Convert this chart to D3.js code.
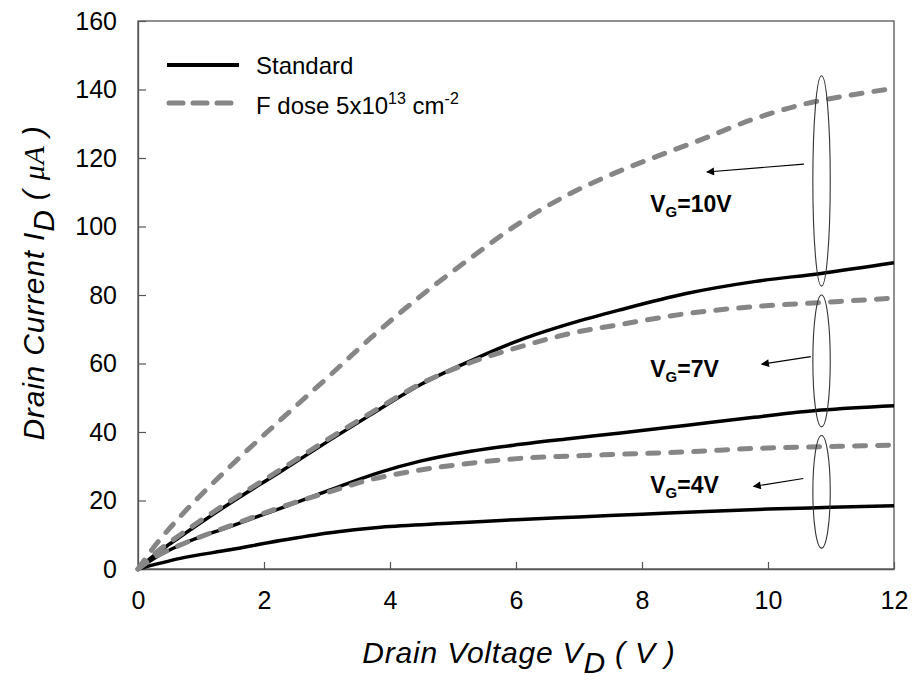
<!DOCTYPE html>
<html>
<head>
<meta charset="utf-8">
<script src="https://cdn.jsdelivr.net/npm/d3@7"></script>
<style>
  html, body { margin: 0; padding: 0; background: #fff; }
  svg { display: block; }
  text { font-family: "Liberation Sans", Arial, sans-serif; fill: #000; }
</style>
</head>
<body>
<svg id="chart" width="915" height="680"></svg>
<script>
// ---------- data ----------
const xTicks = [0, 2, 4, 6, 8, 10, 12];
const yTicks = [0, 20, 40, 60, 80, 100, 120, 140, 160];

// Standard devices [V_D, I_D]
const std10 = [[0,0],[0.3,4.6],[0.67,9.4],[1.46,19.2],[2.26,28.4],[3.05,37.7],[3.69,45],[4.48,53.8],[5.28,60.8],[6.07,66.9],[6.87,71.7],[7.66,75.7],[8.72,80.5],[9.78,83.9],[10.84,86.3],[12,89.4]];
const std7  = [[0,0],[0.3,3.6],[0.67,7],[1.46,12.4],[2.26,17.7],[3.05,23.1],[3.85,28.3],[4.48,31.5],[5.28,34.4],[6.07,36.4],[6.87,38.1],[7.66,39.7],[8.72,42],[9.78,44.3],[10.84,46.4],[12,47.7]];
const std4  = [[0,0],[0.67,3.1],[1.46,5.6],[2.26,8.3],[3.05,10.6],[3.85,12.2],[5,13.4],[6,14.4],[7,15.2],[8,16],[9,16.8],[10,17.5],[11,18],[12,18.5]];

// F dose 5x10^13 cm^-2 devices
const fd10 = [[0,0],[0.3,7.5],[0.67,15.3],[1.46,29.9],[2.26,43.5],[3.05,56.6],[3.69,67.4],[4.48,79.6],[5.28,90.8],[6.07,101.2],[6.87,109.7],[7.66,116.3],[8.14,119.8],[8.93,125.3],[9.73,131.1],[10.52,135.5],[11.32,138.4],[12,140.3]];
const fd7  = [[0,0],[0.3,5],[0.67,10],[1.46,19.8],[2.26,29],[3.05,38.3],[3.69,45.5],[4.48,54],[5.28,60.3],[6.07,64.9],[6.87,68.8],[7.66,71.4],[8.72,74.6],[9.78,76.6],[10.84,77.8],[12,79.1]];
const fd4  = [[0,0],[0.3,3.8],[0.67,7],[1.46,12.6],[2.26,18],[3.05,22.6],[3.69,26.1],[4.48,28.9],[5.28,30.9],[6.07,32.3],[6.87,33],[7.66,33.5],[8.72,34.2],[9.78,35.2],[10.84,35.7],[12,36.2]];

const legendLabels = ["Standard", "F dose 5x10"];

// annotations (data coordinates)
const gateLabels = [
  { v: "10V", x: 8.13, y: 104.2 },
  { v: "7V",  x: 8.13, y: 56.0 },
  { v: "4V",  x: 8.13, y: 22.2 }
];
const ellipses = [
  { x: 10.85, y0: 144.0, y1: 82.6 },
  { x: 10.85, y0: 80.0,  y1: 41.5 },
  { x: 10.85, y0: 39.0,  y1: 6.1 }
];
const arrows = [
  { x1: 10.57, y1: 118.2, x2: 9.03, y2: 115.9 },
  { x1: 10.68, y1: 62.0,  x2: 9.90, y2: 59.8 },
  { x1: 10.56, y1: 26.4,  x2: 9.77, y2: 24.1 }
];

// ---------- layout ----------
const svg = d3.select("#chart");
const L = 138, R = 894, T = 21, B = 569;

const x = d3.scaleLinear().domain([0, 12]).range([L, R]);
const y = d3.scaleLinear().domain([0, 160]).range([B, T]);

// frame
svg.append("rect")
  .attr("x", L).attr("y", T).attr("width", R - L).attr("height", B - T)
  .attr("fill", "none").attr("stroke", "#555").attr("stroke-width", 1.3);

// axes
const xAxis = d3.axisBottom(x).tickValues(xTicks).tickSizeInner(-7).tickSizeOuter(0).tickPadding(22);
const yAxis = d3.axisLeft(y).tickValues(yTicks).tickSizeInner(-8).tickSizeOuter(0).tickPadding(21);

const gx = svg.append("g").attr("transform", `translate(0,${B})`).call(xAxis);
const gy = svg.append("g").attr("transform", `translate(${L},0)`).call(yAxis);
[gx, gy].forEach(g => {
  g.select(".domain").attr("stroke", "#555").attr("stroke-width", 1.3);
  g.selectAll(".tick line").attr("stroke", "#555").attr("stroke-width", 1.2);
  g.selectAll(".tick text")
    .attr("font-family", "Liberation Sans, Arial, sans-serif")
    .attr("font-size", 25).attr("fill", "#111");
});

// lines
const line = d3.line().x(d => x(d[0])).y(d => y(d[1])).curve(d3.curveMonotoneX);

[std10, std7, std4].forEach(s => {
  svg.append("path").datum(s).attr("d", line)
    .attr("fill", "none").attr("stroke", "#000").attr("stroke-width", 3.5)
    .attr("stroke-linejoin", "round");
});
[fd10, fd7, fd4].forEach(s => {
  svg.append("path").datum(s).attr("d", line)
    .attr("fill", "none").attr("stroke", "#868686").attr("stroke-width", 5)
    .attr("stroke-dasharray", "11,12").attr("stroke-linecap", "round");
});

// ellipses
svg.selectAll("ellipse.grp").data(ellipses).join("ellipse")
  .attr("cx", d => x(d.x))
  .attr("cy", d => (y(d.y0) + y(d.y1)) / 2)
  .attr("rx", 8.7)
  .attr("ry", d => (y(d.y1) - y(d.y0)) / 2)
  .attr("fill", "none").attr("stroke", "#333").attr("stroke-width", 1.1);

// arrows
const defs = svg.append("defs");
defs.append("marker").attr("id", "ah")
  .attr("viewBox", "0 0 10 10").attr("refX", 9).attr("refY", 5)
  .attr("markerWidth", 11).attr("markerHeight", 8).attr("markerUnits", "userSpaceOnUse")
  .attr("orient", "auto")
  .append("path").attr("d", "M0,0 L10,5 L0,10 z").attr("fill", "#000");

svg.selectAll("line.arr").data(arrows).join("line")
  .attr("x1", d => x(d.x1)).attr("y1", d => y(d.y1))
  .attr("x2", d => x(d.x2)).attr("y2", d => y(d.y2))
  .attr("stroke", "#000").attr("stroke-width", 1.1)
  .attr("marker-end", "url(#ah)");

// gate voltage labels
gateLabels.forEach(g => {
  const t = svg.append("text")
    .attr("x", x(g.x)).attr("y", y(g.y))
    .attr("font-size", 23).attr("font-weight", "bold");
  t.append("tspan").text("V");
  t.append("tspan").text("G").attr("font-size", 15).attr("dy", 5);
  t.append("tspan").text("=" + g.v).attr("dy", -5);
});

// legend
const lg = svg.append("g");
lg.append("line").attr("x1", 167).attr("x2", 239).attr("y1", 65).attr("y2", 65)
  .attr("stroke", "#000").attr("stroke-width", 4);
lg.append("line").attr("x1", 169).attr("x2", 236).attr("y1", 103).attr("y2", 103)
  .attr("stroke", "#868686").attr("stroke-width", 5)
  .attr("stroke-dasharray", "14,10").attr("stroke-linecap", "round");
lg.append("text").attr("x", 256).attr("y", 74).attr("font-size", 24).attr("fill", "#111").text(legendLabels[0]);
const lt = lg.append("text").attr("x", 256).attr("y", 114).attr("font-size", 24).attr("fill", "#111");
lt.append("tspan").text(legendLabels[1]);
lt.append("tspan").text("13").attr("font-size", 16).attr("dy", -10);
lt.append("tspan").text(" cm").attr("dy", 10);
lt.append("tspan").text("-2").attr("font-size", 16).attr("dy", -10);

// axis titles
const xt = svg.append("text")
  .attr("x", 519).attr("y", 663).attr("text-anchor", "middle")
  .attr("font-size", 30).attr("font-style", "italic").attr("letter-spacing", 0.8);
xt.append("tspan").text("Drain Voltage V");
xt.append("tspan").text("D").attr("dy", 10);
xt.append("tspan").text(" ( V )").attr("dy", -10);

const yt = svg.append("text")
  .attr("transform", "translate(44,283) rotate(-90)")
  .attr("text-anchor", "middle")
  .attr("font-size", 30).attr("font-style", "italic").attr("letter-spacing", 0.8);
yt.append("tspan").text("Drain Current I");
yt.append("tspan").text("D").attr("dy", 10);
yt.append("tspan").text(" ( ").attr("dy", -10);
yt.append("tspan").text("μA").attr("font-family", "Liberation Serif, Times New Roman, serif");
yt.append("tspan").text(" )");
</script>
</body>
</html>
